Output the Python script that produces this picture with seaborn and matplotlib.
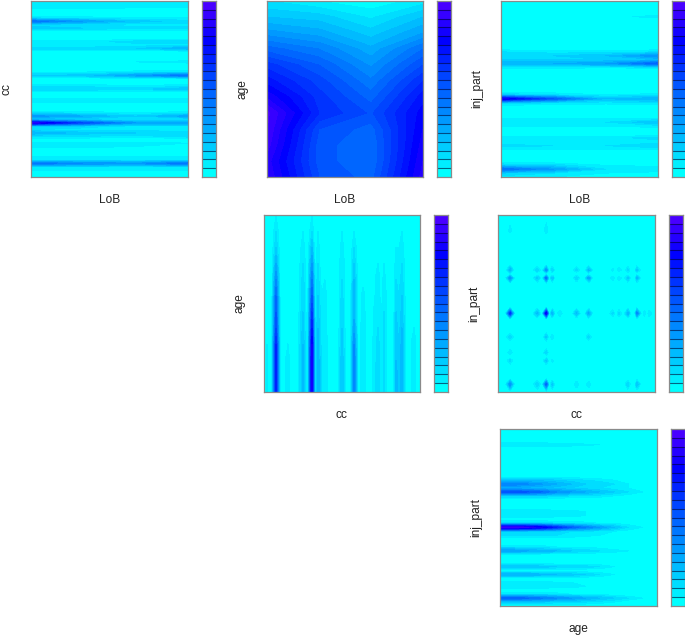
import numpy as np
import seaborn as sns
import matplotlib
matplotlib.use('Agg')  # no GUI
import matplotlib.pyplot as plt
from matplotlib.colors import ListedColormap

# level scale is 0..20, one colour per level
n_levels = 20
n_cc = 53
n_inj = 46
n_age = 12
n_lob = 4

# LoB x age, rows from youngest (bottom) to oldest (top)
lob_age = [
    [18.0, 11.0, 9.5, 17.5],
    [17.5, 10.5, 9.0, 17.0],
    [18.5, 10.5, 9.0, 16.5],
    [19.0, 11.0, 9.5, 16.0],
    [19.3, 13.0, 10.8, 15.5],
    [16.8, 12.5, 9.5, 14.5],
    [14.5, 11.5, 8.2, 13.0],
    [12.5, 10.0, 6.8, 11.0],
    [9.5, 8.0, 5.3, 9.0],
    [6.5, 5.5, 3.5, 6.0],
    [4.0, 3.5, 1.8, 4.0],
    [2.0, 1.0, 0.2, 1.5],
]

# cc x LoB, only the cc rows which differ from the background
cc_rows = [2, 3, 4, 5, 6, 9, 10, 12, 13, 14, 15, 16, 17, 18, 19, 22, 23, 26, 27, 30, 31, 34, 38, 39, 40, 44, 45, 46, 47, 50, 51, 52]
cc_lob = [
    [1.0, 1.0, 1.0, 1.0],
    [2.0, 2.0, 1.5, 2.0],
    [9.0, 7.0, 6.5, 9.0],
    [2.0, 2.0, 1.5, 2.0],
    [1.0, 1.0, 1.0, 1.0],
    [1.5, 1.5, 1.0, 1.0],
    [1.5, 1.5, 1.5, 1.0],
    [2.0, 2.0, 1.5, 2.5],
    [5.0, 3.5, 3.0, 2.5],
    [2.0, 1.5, 1.5, 1.5],
    [3.0, 2.5, 1.5, 1.5],
    [18.0, 11.0, 6.0, 6.0],
    [3.0, 2.5, 1.5, 1.5],
    [6.5, 5.0, 3.0, 5.5],
    [2.0, 1.5, 1.0, 1.5],
    [1.0, 1.0, 1.0, 1.0],
    [1.5, 1.5, 1.5, 1.5],
    [3.0, 3.0, 2.5, 4.0],
    [1.5, 1.5, 1.0, 1.5],
    [3.0, 3.5, 6.0, 9.0],
    [1.0, 1.0, 1.5, 2.0],
    [1.0, 1.0, 1.0, 1.5],
    [2.5, 2.5, 3.0, 5.0],
    [1.0, 1.0, 1.5, 1.5],
    [1.5, 1.5, 2.5, 3.0],
    [4.0, 3.0, 2.5, 2.5],
    [2.0, 2.0, 1.5, 1.5],
    [9.0, 6.0, 3.5, 2.5],
    [2.0, 1.5, 1.0, 1.0],
    [1.5, 1.5, 1.0, 1.0],
    [2.0, 1.5, 1.5, 1.5],
    [2.0, 1.5, 1.0, 1.5],
]

# inj_part x LoB
inj_rows = [0, 1, 2, 3, 7, 8, 9, 10, 13, 14, 15, 19, 20, 21, 28, 29, 30, 31, 32, 41]
inj_lob = [
    [1.5, 1.0, 0.5, 0.5],
    [3.0, 2.0, 1.0, 0.5],
    [9.0, 6.0, 2.0, 2.0],
    [3.0, 2.5, 1.0, 0.5],
    [1.0, 1.0, 1.0, 1.0],
    [2.5, 2.0, 2.0, 3.0],
    [1.0, 1.0, 1.0, 1.5],
    [1.5, 1.5, 1.5, 2.5],
    [1.0, 1.0, 1.0, 1.5],
    [1.5, 1.5, 2.0, 4.0],
    [1.0, 1.0, 1.0, 1.0],
    [3.0, 2.0, 1.5, 2.0],
    [17.0, 10.0, 4.0, 5.0],
    [3.0, 2.0, 1.0, 1.5],
    [1.5, 1.5, 1.0, 1.5],
    [5.0, 5.0, 6.0, 10.0],
    [3.0, 3.0, 3.0, 4.0],
    [3.0, 3.0, 4.0, 7.0],
    [2.0, 1.5, 1.5, 2.0],
    [0.5, 0.5, 0.5, 1.5],
]

# cc x age, cc positions of the knots and the bands that sit on them
cc_knots = [0, 1, 2.5, 4, 5.5, 8, 9.5, 11, 13, 14.5, 16, 17, 18, 19.2, 20.3, 22, 24.5, 26, 27.5, 28.7, 30, 31.5, 33, 35, 38, 39.2, 40, 41.5, 43, 44, 45, 46, 47.5, 49, 50, 52]
band_knots = [1, 3, 5, 8, 10, 11, 12, 13, 14, 17, 20, 22, 24, 25, 26, 29, 30, 31, 33, 34]
cc_age = [
    [1.2, 1.2, 1.2, 1.0, 1.0, 0.5, 0.0, 0.0, 0.0, 0.0, 0.0, 0.0],
    [14.0, 14.0, 14.0, 13.0, 11.0, 10.0, 9.0, 7.0, 5.0, 3.0, 2.0, 1.0],
    [1.5, 1.5, 1.5, 1.0, 1.0, 0.5, 0.0, 0.0, 0.0, 0.0, 0.0, 0.0],
    [4.5, 4.5, 4.5, 4.0, 3.5, 3.0, 3.0, 2.5, 2.0, 1.5, 1.0, 0.0],
    [17.0, 17.0, 17.0, 16.0, 14.0, 12.0, 10.0, 8.0, 6.0, 4.0, 2.0, 1.0],
    [1.5, 1.5, 1.5, 1.5, 1.5, 1.0, 1.0, 1.0, 0.5, 0.0, 0.0, 0.0],
    [5.0, 5.0, 5.0, 4.5, 4.0, 3.5, 3.0, 2.5, 2.0, 1.5, 1.0, 0.0],
    [1.5, 1.5, 1.5, 1.5, 1.5, 1.0, 1.0, 0.5, 0.0, 0.0, 0.0, 0.0],
    [2.0, 2.0, 2.0, 2.0, 1.5, 1.5, 1.5, 1.0, 1.0, 0.5, 0.0, 0.0],
    [4.0, 4.0, 4.0, 3.5, 3.0, 3.0, 2.5, 2.0, 2.0, 1.5, 1.0, 0.0],
    [8.0, 8.0, 8.0, 7.0, 5.5, 4.5, 4.5, 4.0, 3.0, 2.0, 1.0, 0.0],
    [2.0, 2.0, 2.0, 2.0, 2.0, 1.5, 1.5, 0.5, 0.0, 0.0, 0.0, 0.0],
    [3.0, 3.0, 2.5, 2.5, 2.0, 2.0, 1.5, 1.5, 1.0, 0.5, 0.0, 0.0],
    [1.0, 1.0, 1.0, 1.0, 1.0, 1.0, 0.5, 0.5, 0.0, 0.0, 0.0, 0.0],
    [2.5, 2.5, 2.5, 2.5, 2.5, 2.0, 2.0, 1.5, 1.0, 0.5, 0.0, 0.0],
    [4.5, 4.5, 4.0, 4.0, 3.5, 3.0, 2.5, 2.0, 1.5, 1.0, 0.5, 0.0],
    [3.5, 3.5, 3.0, 3.0, 2.5, 2.0, 2.0, 1.5, 1.5, 1.0, 0.5, 0.0],
    [5.0, 5.0, 5.0, 4.5, 4.0, 3.5, 3.0, 2.5, 2.0, 1.5, 1.0, 0.0],
    [1.0, 1.0, 1.0, 1.0, 1.0, 1.0, 0.5, 0.5, 0.5, 0.0, 0.0, 0.0],
    [1.5, 1.5, 1.5, 1.5, 1.0, 1.0, 1.0, 1.0, 1.0, 0.5, 0.0, 0.0],
]

# cc x inj_part, dots at the crossings, zero knots between them keep the dots round
dot_x_knots = [0, 2.4, 4, 5.6, 11.2, 13, 14.6, 16, 17, 18, 19, 20.5, 22, 24.4, 26, 27.6, 28.6, 30, 31.6, 36.4, 38, 39, 40, 41.6, 43, 44.2, 45.2, 46, 47.6, 48.5, 49.3, 50, 52]
dot_y_knots = [0, 2, 3.5, 6.5, 8, 9, 10, 11.5, 12.5, 14, 15.5, 17.5, 18.5, 20, 21.6, 27.5, 29, 30, 31, 32.5, 39.5, 41, 45]
dot_rows = [1, 4, 6, 9, 13, 16, 18, 21]
dot_cols = [2, 5, 7, 9, 11, 14, 17, 20, 22, 24, 27, 29, 31]
cc_inj = [
    [7.0, 3.0, 10.0, 3.5, 0.0, 2.0, 2.0, 1.0, 0.0, 3.0, 4.0, 0.0, 0.0],
    [2.5, 0.5, 3.5, 1.5, 0.0, 0.8, 1.0, 0.0, 0.0, 0.8, 0.8, 0.0, 0.0],
    [2.0, 0.0, 3.0, 1.0, 0.0, 0.0, 0.8, 0.0, 0.0, 0.0, 0.0, 0.0, 0.0],
    [3.0, 0.0, 3.5, 2.0, 0.0, 0.8, 2.5, 0.0, 0.0, 0.8, 0.8, 0.0, 0.0],
    [13.0, 4.5, 17.0, 5.0, 2.0, 4.5, 5.5, 2.5, 2.5, 5.0, 8.0, 2.0, 2.0],
    [7.0, 3.5, 9.0, 4.0, 1.0, 3.0, 6.0, 2.0, 2.0, 3.5, 4.5, 0.5, 0.0],
    [5.0, 3.0, 7.0, 3.0, 0.5, 2.5, 4.5, 1.5, 2.0, 2.5, 3.5, 0.0, 0.0],
    [1.5, 0.0, 2.0, 0.0, 0.0, 0.0, 0.5, 0.0, 0.0, 0.0, 0.0, 0.0, 0.0],
]

# inj_part x age, values from young (left) to old (right)
band_rows = [1, 2, 3, 5, 6, 8, 10, 14, 15, 18, 19, 20, 21, 23, 24, 28, 29, 30, 31, 32, 41]
inj_age = [
    [3.0, 3.0, 3.0, 3.0, 2.5, 2.5, 2.0, 1.5, 1.0, 0.0, 0.0, 0.0],
    [10.0, 10.0, 9.0, 8.0, 7.0, 6.0, 5.0, 4.0, 3.0, 2.0, 1.0, 0.0],
    [2.0, 2.0, 2.0, 2.0, 1.5, 1.0, 1.0, 1.0, 0.0, 0.0, 0.0, 0.0],
    [2.0, 2.0, 2.0, 2.0, 1.5, 1.5, 1.0, 1.0, 0.0, 0.0, 0.0, 0.0],
    [1.5, 1.5, 1.5, 1.5, 1.0, 1.0, 1.0, 0.5, 0.0, 0.0, 0.0, 0.0],
    [5.0, 5.0, 5.0, 4.5, 4.0, 3.5, 3.0, 2.0, 1.0, 0.5, 0.0, 0.0],
    [4.0, 4.0, 4.0, 3.5, 3.0, 2.5, 2.5, 2.0, 1.0, 0.5, 0.0, 0.0],
    [6.0, 6.0, 5.0, 4.5, 4.0, 3.0, 2.5, 2.0, 1.5, 1.0, 0.0, 0.0],
    [2.0, 2.0, 2.0, 1.5, 1.0, 1.0, 1.0, 0.5, 0.0, 0.0, 0.0, 0.0],
    [2.5, 2.5, 2.5, 2.5, 2.0, 2.0, 1.5, 1.0, 0.5, 0.0, 0.0, 0.0],
    [3.0, 3.0, 3.0, 3.0, 2.5, 2.0, 2.0, 1.5, 1.0, 0.5, 0.0, 0.0],
    [19.0, 19.0, 18.0, 16.0, 13.0, 10.0, 8.0, 6.0, 4.0, 2.0, 1.0, 0.0],
    [3.0, 3.0, 3.0, 3.0, 2.0, 2.0, 1.5, 1.0, 1.0, 0.5, 0.0, 0.0],
    [2.0, 2.0, 2.0, 2.0, 1.5, 1.5, 1.0, 0.0, 0.0, 0.0, 0.0, 0.0],
    [2.0, 2.0, 2.0, 2.0, 1.5, 1.5, 1.0, 0.0, 0.0, 0.0, 0.0, 0.0],
    [3.0, 3.0, 3.0, 3.0, 2.5, 2.0, 2.0, 1.5, 1.0, 0.5, 0.0, 0.0],
    [11.0, 11.0, 10.0, 9.0, 7.0, 6.0, 5.0, 4.0, 3.0, 2.0, 1.0, 0.0],
    [4.5, 4.5, 4.5, 4.0, 3.5, 3.0, 2.5, 2.0, 1.5, 1.0, 0.5, 0.0],
    [8.0, 8.0, 7.0, 6.0, 5.0, 4.0, 3.0, 3.0, 2.0, 1.0, 0.5, 0.0],
    [3.5, 3.5, 3.5, 3.5, 3.0, 2.5, 2.0, 1.5, 1.0, 1.0, 0.5, 0.0],
    [2.0, 2.0, 2.0, 2.0, 1.5, 1.5, 1.2, 1.0, 0.0, 0.0, 0.0, 0.0],
]

W, H = 685, 636
sns.set_theme(style="white")
plt.rcParams['font.family'] = ['Liberation Sans', 'DejaVu Sans']

colors = sns.blend_palette(["#00FFFF", "#0000FF"], 16) + sns.blend_palette(["#0000FF", "#4800FF"], 5)[1:]
cmap = ListedColormap(colors)
levels = np.arange(n_levels + 1)
frame = "#8a8a8a"


def sparse(n_rows, n_cols, rows, cols, values):
    grid = np.zeros((n_rows, n_cols))
    grid[np.ix_(rows, cols)] = values
    return grid


def pixel_axes(fig, left, top, right, bottom):
    return fig.add_axes([left / W, 1 - bottom / H, (right - left) / W, (bottom - top) / H])


def style_frame(ax):
    ax.set_xticks([])
    ax.set_yticks([])
    for side in ax.spines.values():
        side.set_visible(True)
        side.set_color(frame)
        side.set_linewidth(0.9)


def to_axis(knots, n):
    # knots run from the first to the last level, these two sit on the frame
    knots = np.asarray(knots, dtype=float)
    return (knots - knots[0]) / (knots[-1] - knots[0]) * n


def panel(fig, box, strip, grid, xlabel, ylabel, xknots=None, yknots=None):
    grid = np.clip(np.asarray(grid, dtype=float), 0, n_levels - 0.01)
    n_rows, n_cols = grid.shape
    ax = pixel_axes(fig, *box)
    sns.heatmap(grid, cmap=cmap, vmin=0, vmax=n_levels, cbar=False, ax=ax)
    ax.invert_yaxis()
    # filled contours over the cells
    x = to_axis(range(n_cols) if xknots is None else xknots, n_cols)
    y = to_axis(range(n_rows) if yknots is None else yknots, n_rows)
    ax.contourf(x, y, grid, levels=levels, cmap=cmap, vmin=0, vmax=n_levels)
    ax.set_xlabel(xlabel, fontsize=8.6, color="#222222", labelpad=12.5)
    ax.set_ylabel(ylabel, fontsize=8.6, color="#222222", labelpad=13)
    style_frame(ax)

    cax = pixel_axes(fig, *strip)
    sns.heatmap(np.arange(n_levels)[:, None] + 0.5, cmap=cmap, vmin=0, vmax=n_levels, cbar=False, ax=cax)
    cax.invert_yaxis()
    cax.hlines(np.arange(1, n_levels), 0, 1, color="#000033", alpha=0.6, linewidth=0.8)
    style_frame(cax)


fig = plt.figure(figsize=(W / 100, H / 100), dpi=100)

grid_cc_lob = sparse(n_cc, n_lob, cc_rows, list(range(n_lob)), cc_lob)
grid_inj_lob = sparse(n_inj, n_lob, inj_rows, list(range(n_lob)), inj_lob)
grid_cc_age = sparse(n_age, len(cc_knots), list(range(n_age)), band_knots, np.array(cc_age).T)
grid_cc_inj = sparse(len(dot_y_knots), len(dot_x_knots), dot_rows, dot_cols, cc_inj)
grid_inj_age = sparse(n_inj, n_age, band_rows, list(range(n_age)), inj_age)

panel(fig, (31, 1, 188, 177), (202, 1, 216, 177), grid_cc_lob, "LoB", "cc")
panel(fig, (267, 1, 423, 177), (437, 1, 451, 177), lob_age, "LoB", "age")
panel(fig, (501, 1, 658, 177), (672, 1, 686, 177), grid_inj_lob, "LoB", "inj_part")
panel(fig, (264, 215, 420, 392), (434, 215, 448, 392), grid_cc_age, "cc", "age", xknots=cc_knots)
panel(fig, (498, 215, 655, 392), (669, 215, 683, 392), grid_cc_inj, "cc", "in_part", xknots=dot_x_knots, yknots=dot_y_knots)
panel(fig, (500, 429, 657, 606), (671, 429, 685, 606), grid_inj_age, "age", "inj_part")

fig.savefig("out.png", dpi=100)
plt.close(fig)
